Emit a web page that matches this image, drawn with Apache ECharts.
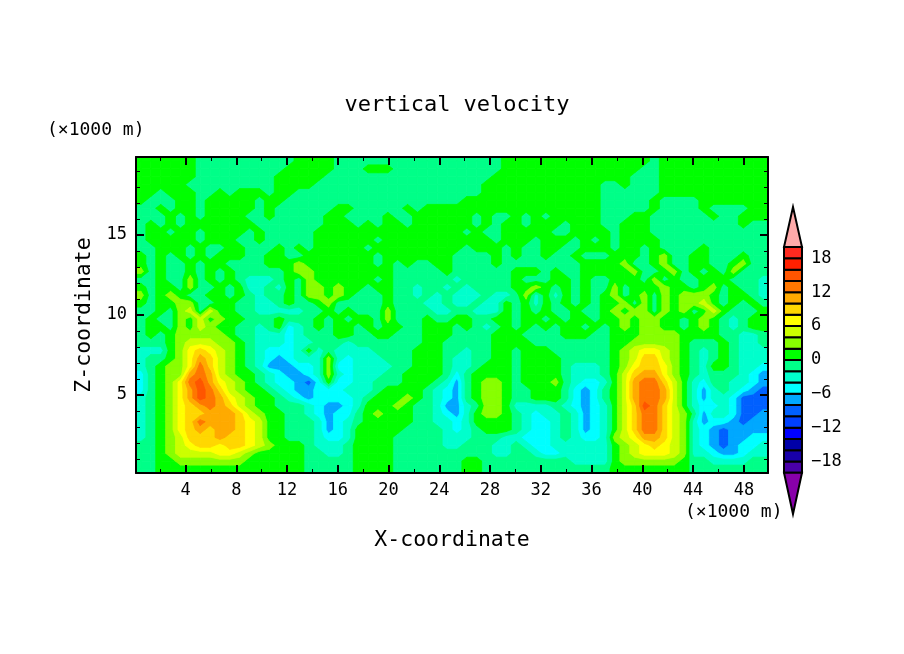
<!DOCTYPE html>
<html>
<head>
<meta charset="utf-8">
<title>vertical velocity</title>
<script src="https://cdn.jsdelivr.net/npm/echarts@6/dist/echarts.min.js"></script>
<style>
html, body { margin: 0; padding: 0; background: #fff; }
#chart { width: 904px; height: 654px; }
</style>
</head>
<body>
<div id="chart"></div>
<script>
// vertical velocity, band centre in m/s, top row first, 64 columns
var velocity = [
[1,1,1,1,1,1,-1,-1,-1,-1,-1,-1,-1,-1,-1,-1,1,1,1,1,-1,-1,-1,-1,-1,-1,-1,-1,-1,-1,-1,-1,-1,-1,-1,-1,-1,1,1,1,1,1,1,1,1,1,1,1,1,1,1,1,-1,1,1,1,1,1,1,1,1,1,1,1],
[1,1,1,1,1,1,-1,-1,-1,-1,-1,-1,-1,-1,-1,1,1,1,1,1,-1,-1,-1,1,1,1,-1,-1,-1,-1,-1,-1,-1,-1,-1,-1,-1,1,1,1,1,1,1,1,1,1,1,1,1,1,1,-1,-1,1,1,1,1,1,1,1,1,1,1,1],
[1,1,1,1,1,1,-1,-1,-1,-1,-1,-1,-1,-1,1,1,1,1,1,-1,-1,-1,-1,-1,-1,-1,-1,-1,-1,-1,-1,-1,-1,-1,-1,-1,1,1,1,1,1,1,1,1,1,1,1,1,1,1,-1,-1,-1,1,1,1,1,1,1,1,1,1,1,1],
[1,1,1,1,1,-1,-1,-1,-1,-1,-1,-1,-1,-1,1,1,1,1,-1,-1,-1,-1,-1,-1,-1,-1,-1,-1,-1,-1,-1,-1,-1,-1,-1,1,1,1,1,1,1,1,1,1,1,1,1,-1,-1,1,-1,-1,-1,1,1,1,1,1,1,1,1,1,1,1],
[1,1,-1,1,1,1,-1,-1,1,-1,1,1,1,-1,1,1,-1,-1,-1,-1,-1,-1,-1,-1,-1,-1,-1,-1,-1,-1,-1,-1,-1,-1,-1,1,1,1,1,1,1,1,1,1,1,1,1,-1,-1,-1,-1,-1,-1,1,1,1,1,1,1,1,1,1,1,1],
[1,-1,-1,-1,1,1,-1,1,1,1,1,1,-1,1,1,-1,-1,-1,-1,-1,-1,-1,-1,-1,-1,-1,-1,-1,-1,-1,-1,-1,-1,1,1,1,1,1,1,1,1,1,1,1,1,1,1,-1,-1,-1,-1,-1,1,-1,-1,-1,-1,1,1,1,1,1,1,1],
[-1,-1,1,-1,1,1,-1,1,1,1,1,1,-1,1,-1,-1,-1,-1,-1,-1,1,1,-1,-1,-1,-1,-1,1,-1,1,1,1,1,1,1,1,1,1,1,1,1,1,1,1,1,1,1,-1,-1,-1,-1,-1,1,-1,-1,-1,-1,1,-1,-1,-1,-1,1,1],
[-1,-1,-1,1,-1,1,-1,1,1,1,1,-1,-1,1,-1,-1,-1,-1,-1,1,1,-1,-1,-1,-1,1,-1,-1,1,1,1,1,1,1,-1,1,-1,-1,1,-1,1,-1,1,1,1,1,1,-1,-1,-1,1,1,-1,-1,-1,-1,-1,-1,1,-1,-1,1,1,1],
[-1,1,-1,1,-1,1,1,1,1,1,1,1,-1,-1,-1,-1,-1,-1,-1,1,1,1,-1,1,-1,1,1,-1,1,1,1,1,1,1,-1,1,-1,1,1,-1,1,1,1,-1,1,1,1,-1,-1,1,1,1,-1,-1,-1,-1,-1,-1,-1,-1,-1,1,-1,-1],
[-1,1,1,-1,1,1,-1,1,1,1,1,-1,1,-1,-1,-1,-1,-1,1,1,1,1,1,1,1,1,1,1,1,1,1,1,1,-1,1,-1,-1,1,1,1,1,1,-1,-1,1,1,1,1,-1,1,1,1,-1,-1,-1,-1,-1,-1,-1,-1,-1,-1,-1,-1],
[-1,1,1,1,1,1,-1,1,1,1,-1,-1,1,-1,-1,-1,-1,-1,1,1,1,1,1,1,-1,1,1,1,1,1,1,1,1,1,1,1,-1,1,1,1,-1,1,1,1,-1,1,-1,1,-1,1,1,1,1,-1,-1,-1,-1,-1,-1,-1,-1,-1,-1,-1],
[-1,-1,1,1,1,-1,1,-1,-1,1,1,-1,-1,-1,1,-1,1,-1,1,1,1,1,1,-1,1,1,1,1,1,1,1,1,1,-1,1,1,1,-1,1,-1,-1,1,1,-1,-1,1,1,1,-1,1,1,-1,1,-1,-1,-1,-1,1,-1,-1,-1,-1,-1,-1],
[1,-1,1,-1,1,-1,1,-1,1,1,1,-1,-1,1,1,-1,-1,1,1,1,1,1,1,1,-1,1,1,1,1,1,1,1,-1,-1,-1,-1,1,-1,1,-1,-1,1,-1,-1,1,-1,-1,-1,1,1,1,-1,1,3,-1,-1,1,1,-1,-1,-1,1,-1,-1],
[1,-1,1,-1,-1,1,-1,1,1,-1,-1,-1,-1,1,1,1,3,1,1,1,1,1,1,1,-1,1,-1,1,-1,-1,1,1,-1,-1,-1,-1,1,-1,-1,-1,-1,-1,-1,-1,-1,1,1,1,1,3,-1,-1,1,3,-1,-1,1,1,-1,-1,1,3,-1,-1],
[3,-1,1,-1,-1,1,-1,1,-1,1,-1,-1,-1,-1,-1,1,3,3,1,1,1,1,1,1,1,1,-1,-1,-1,-1,-1,1,-1,-1,-1,-1,-1,-1,1,1,1,-1,1,-1,-1,1,1,1,1,1,3,-1,-1,1,3,-1,1,-1,1,-1,3,-1,-1,-1],
[-1,-1,1,-1,-1,3,-1,1,-1,1,-1,-3,-3,-3,-1,1,-1,3,1,1,1,1,1,1,-1,1,-1,-1,-1,-1,-1,-1,-3,-1,-1,-1,-1,-1,1,-1,-1,-1,1,1,-1,1,-1,-1,1,1,1,-1,3,-1,1,-1,-1,1,1,1,-1,-1,-1,-3],
[1,-1,1,1,-1,3,-1,-1,1,-1,1,-3,-3,-1,-3,1,-1,3,3,1,3,1,1,-1,1,1,-1,-1,-3,-1,-1,-3,-1,-3,-1,-1,-1,-1,1,1,3,1,-1,1,-1,1,-1,-1,3,-1,1,1,1,3,1,1,-1,1,3,-1,1,-1,-1,-3],
[3,-1,1,3,1,-1,-1,1,1,-1,1,-1,-3,-1,-1,1,-1,3,3,1,3,1,-1,-1,-1,1,-1,-1,-3,-1,-3,-1,-3,-3,-3,-1,-3,-3,-1,3,-3,1,-3,1,-1,1,-1,1,3,-1,1,3,-1,3,1,3,3,3,1,-1,1,1,-1,-3],
[1,-1,1,1,3,3,-1,-1,1,1,-1,-1,-3,-3,-1,1,-1,-1,1,3,-1,-1,-1,-1,-1,1,-1,-1,-1,-3,-3,-1,-3,-3,-1,-3,-3,1,-1,1,-3,1,-1,1,-1,1,-1,1,1,3,-1,3,-1,3,1,3,3,5,1,-1,1,-1,1,-1],
[-1,-1,1,-1,3,5,-1,5,1,1,-1,-1,-3,-3,-3,-3,-3,-1,-1,1,-1,1,-1,-1,-1,3,-1,-1,-1,-1,-3,-3,-1,-1,-3,-3,-3,1,-1,1,-1,1,-1,-1,1,-1,-1,1,3,1,3,3,-1,3,1,3,-1,1,5,1,-1,-1,-1,1],
[-1,1,-1,-1,3,1,5,1,3,1,1,-1,-1,-1,1,-1,-1,-1,1,-1,1,-1,1,1,-1,3,-1,-1,-1,1,-1,-1,1,1,-1,-1,1,1,-1,1,1,-1,1,-1,1,1,-1,1,1,3,1,3,3,1,1,-1,1,3,1,-1,-3,-1,1,1],
[-1,1,1,-1,3,1,5,3,1,1,-1,-1,-3,-1,1,-5,-3,-1,1,-1,1,1,-1,1,-1,1,1,-1,-1,1,1,1,-1,1,-1,-3,-1,1,-1,1,-1,1,-1,1,1,-1,1,-1,1,3,1,3,3,1,1,-1,1,3,1,-1,-3,-1,1,1],
[-1,1,-1,1,3,3,3,3,3,1,-1,-1,-3,-3,-3,-5,-3,-1,-1,-1,1,1,-1,-1,1,1,-1,-1,-1,1,1,1,-1,-1,-1,-1,1,1,1,-1,-1,-1,-1,1,1,1,-1,-1,1,1,1,3,3,3,3,1,1,1,1,-1,-1,-3,-3,-1],
[-1,-1,-1,1,3,5,5,5,3,3,1,-1,-3,-3,-3,-5,-3,-3,-1,-1,-1,-3,-1,-1,-1,-1,-1,-1,-1,1,1,-1,-1,-1,-1,-1,1,1,1,1,-1,-1,-1,-1,-1,-1,-1,-1,1,1,3,3,3,3,3,1,-1,-1,-1,1,-1,-3,-3,-1],
[-3,-3,-3,1,3,7,9,7,5,3,1,-1,-3,-5,-5,-5,-3,1,-3,-1,-3,-3,-3,-3,-1,-1,-1,-1,1,1,1,-1,-1,-3,-1,-1,1,1,-1,1,1,1,-1,-1,-1,-1,-1,-1,1,3,5,7,7,5,3,1,-1,-3,-1,1,-1,-3,-3,-3],
[-3,-1,-1,1,3,7,11,9,5,3,1,-1,-3,-5,-7,-5,-3,-3,-3,3,-3,-5,-3,-3,-3,-1,-1,-1,1,1,1,-1,-3,-3,-1,-1,1,1,-1,1,1,1,1,-1,-1,-1,-1,-1,1,3,5,9,9,5,3,1,-1,-3,-1,1,-1,-3,-3,-3],
[-3,-1,1,3,3,7,13,9,5,3,1,-1,-3,-7,-7,-7,-5,-5,-3,3,-5,-5,-3,-3,-3,-3,-1,-1,1,1,1,-1,-3,-3,-1,1,1,1,-1,1,1,1,1,-1,-3,-3,-3,-1,1,3,7,9,9,7,3,1,-1,-3,1,1,-1,-3,-3,-5],
[-5,-1,1,3,3,11,13,11,5,3,1,1,-1,-3,-5,-7,-7,-5,-3,3,-3,-5,-3,-3,-3,-1,-1,1,1,1,1,-1,-5,-1,1,1,1,1,-1,1,1,1,1,-1,-3,-3,-3,-1,1,5,9,11,11,7,3,1,-1,-3,-1,-1,-1,-3,-5,-7],
[-5,-1,1,3,7,13,15,11,7,5,3,1,-1,-3,-5,-5,-7,-9,-5,1,-5,-5,-3,-3,-1,-1,-1,1,1,1,-1,-3,-7,-1,1,3,3,1,-1,1,1,1,3,-1,-3,-5,-5,-3,1,5,11,13,13,9,5,1,-3,-5,-1,-1,-3,-3,-5,-7],
[-5,-1,1,3,7,11,15,13,9,5,3,1,1,-1,-3,-5,-7,-7,-5,-5,-5,-3,-3,-3,-1,1,1,1,1,-1,-3,-5,-7,-1,1,3,3,1,-1,-1,1,1,1,-1,-5,-7,-5,-1,1,5,11,13,13,11,5,1,-3,-7,-3,-1,-3,-5,-7,-9],
[-3,-1,1,3,7,11,15,13,11,7,5,3,1,1,-1,-3,-5,-7,-5,-5,-5,-5,-3,-1,1,1,1,3,1,-1,-3,-5,-7,-1,1,3,3,1,-1,-1,1,1,1,-1,-5,-7,-5,-1,1,5,11,13,13,11,5,1,-3,-7,-3,-3,-5,-9,-9,-9],
[-3,-1,1,3,7,9,11,13,11,9,5,3,1,1,-1,-1,-1,-3,-5,-7,-7,-5,-3,1,1,1,3,1,-1,-1,-3,-7,-7,-3,-1,3,3,1,-3,-3,-3,-3,-1,-3,-5,-7,-5,-3,1,5,9,15,13,9,5,1,-3,-5,-5,-3,-5,-9,-9,-9],
[-3,-1,1,3,7,9,9,11,11,11,9,5,3,1,1,-1,-1,-3,-5,-7,-5,-5,-1,1,3,1,1,1,-1,-1,-3,-5,-7,-3,1,3,3,1,-1,-3,-5,-3,-3,-1,-3,-7,-5,-3,1,5,9,13,13,9,5,3,-1,-7,-3,-3,-5,-9,-9,-7],
[-3,-1,1,3,7,9,13,11,11,11,9,7,5,1,1,-1,-1,-1,-3,-7,-5,-3,-1,1,1,1,1,1,-1,-1,-3,-3,-5,-3,1,1,1,1,-1,-3,-5,-5,-3,-1,-3,-7,-5,-3,1,5,9,13,13,9,5,3,-3,-7,-5,-5,-7,-9,-7,-7],
[-3,-1,1,3,7,9,11,9,11,11,9,7,5,1,1,-1,-1,-1,-3,-7,-5,-3,1,1,1,1,1,-1,-1,-1,-1,-3,-5,-3,-1,1,1,1,-1,-3,-5,-5,-3,-1,-3,-7,-5,-3,1,5,9,13,13,9,5,3,-3,-5,-7,-9,-7,-7,-7,-7],
[-3,-1,1,3,5,9,9,9,11,9,9,7,5,1,1,-1,-1,-1,-3,-5,-5,-3,1,1,1,1,-1,-1,-1,-1,-1,-3,-3,-3,-1,-1,-1,-3,-3,-5,-5,-5,-3,-1,-3,-5,-5,-3,3,5,7,11,11,9,5,3,-3,-5,-7,-9,-7,-7,-5,-5],
[-1,-1,1,3,5,7,9,9,7,9,9,7,5,3,1,1,1,-1,-3,-3,-3,-1,1,1,1,1,-1,-1,-1,-1,-1,-3,-3,-1,-1,-1,-3,-3,-1,-3,-5,-5,-3,-3,-3,-3,-3,-3,1,3,5,7,9,7,5,3,-3,-5,-7,-9,-7,-5,-5,-3],
[-1,-1,1,3,5,5,5,5,7,7,5,3,1,1,1,1,1,-1,-1,-3,-3,-1,1,1,1,1,-1,-1,-1,-1,-1,-1,-1,-1,-1,-1,-3,-3,-1,-1,-3,-5,-5,-3,-3,-3,-3,-3,1,3,5,7,7,7,5,3,-3,-3,-5,-7,-7,-5,-3,-3],
[-1,-1,1,1,3,3,3,3,3,3,3,1,1,1,1,1,1,-1,-1,-1,-1,-1,1,1,1,1,-1,-1,-1,-1,-1,-1,-1,1,1,-1,-1,-1,-1,-1,-1,-1,-1,-1,-3,-3,-3,-3,1,3,3,3,3,3,3,1,-1,-1,-3,-3,-3,-3,-1,-1],
[-1,-1,1,1,1,1,1,1,1,1,1,1,1,1,1,1,1,-1,-1,-1,-1,-1,1,1,1,1,-1,-1,-1,-1,-1,-1,-1,1,1,-1,-1,-1,-1,-1,-1,-1,-1,-1,-1,-1,-1,-1,1,1,1,1,1,1,1,1,-1,-1,-1,-1,-1,-1,-1,-1]
];

// colour bar, one entry per box from the lowest band up
var levelLows = [-20,-18,-16,-14,-12,-10,-8,-6,-4,-2,0,2,4,6,8,10,12,14,16,18];
var levelColors = ['#4a00a8','#1800a8','#0000a8','#0000ff','#0040ff','#0060ff','#00a8ff','#00ffff','#00ffcc','#00ff88','#00ff00','#88ff00','#ccff00','#ffff00','#ffd700','#ffaa00','#ff7700','#ff5500','#ff2000','#ff2a20'];
var overColor = '#ffaaaa';
var underColor = '#8800aa';
var barLabels = [18,12,6,0,-6,-12,-18];

// axes
var xMajor = [4,8,12,16,20,24,28,32,36,40,44,48];
var xMinor = [2,6,10,14,18,22,26,30,34,38,42,46];
var zMajor = [5,10,15];
var zMinor = [1,2,3,4,6,7,8,9,11,12,13,14,16,17,18,19];

var FONT = '"DejaVu Sans Mono", monospace';
var X_MIN = 0.1, X_MAX = 49.9, Z_MIN = 0.125, Z_MAX = 19.875;

function tickAxis(min, max, position, values, len, width, showLabel, showLine) {
    return {
        type: 'value', gridIndex: 0, position: position, min: min, max: max, z: 5,
        splitLine: { show: false },
        axisLine: { show: showLine, onZero: false, lineStyle: { color: '#000', width: 2 } },
        axisTick: { show: true, inside: true, customValues: values, length: len, lineStyle: { color: '#000', width: width } },
        axisLabel: {
            show: showLabel, customValues: values, color: '#000',
            fontFamily: FONT, fontSize: 17, margin: 9
        }
    };
}

var nRows = velocity.length, nCols = velocity[0].length;

// cell centres, the outer ring of quads runs out to the frame
function xOf(c) {
    if (c < 0) return X_MIN;
    if (c >= nCols) return X_MAX;
    return X_MIN + (c + 0.5) * (X_MAX - X_MIN) / nCols;
}
function zOf(r) {
    if (r < 0) return Z_MAX;
    if (r >= nRows) return Z_MIN;
    return Z_MAX - (r + 0.5) * (Z_MAX - Z_MIN) / nRows;
}
function valueAt(r, c) {
    return velocity[Math.min(nRows - 1, Math.max(0, r))][Math.min(nCols - 1, Math.max(0, c))];
}

// one item per quad and per band, lowest band first so that higher bands paint over
var bandItems = [];
levelLows.forEach(function (low, band) {
    for (var r = -1; r < nRows; r++) {
        for (var c = -1; c < nCols; c++) {
            var v = [valueAt(r, c), valueAt(r, c + 1), valueAt(r + 1, c + 1), valueAt(r + 1, c)];
            var hi = Math.max.apply(null, v), lo = Math.min.apply(null, v);
            if (hi >= low && lo < low + 2) {
                bandItems.push([xOf(c), zOf(r), xOf(c + 1), zOf(r + 1), v[0], v[1], v[2], v[3], band]);
            }
        }
    }
});

function renderBand(params, api) {
    var x0 = api.value(0), z0 = api.value(1), x1 = api.value(2), z1 = api.value(3);
    var band = api.value(8);
    var low = levelLows[band];
    var corners = [[x0, z0, api.value(4)], [x1, z0, api.value(5)], [x1, z1, api.value(6)], [x0, z1, api.value(7)]];
    var pts = [];
    corners.forEach(function (p, i) {
        var q = corners[(i + 1) % 4];
        if (p[2] >= low) pts.push(api.coord([p[0], p[1]]));
        if ((p[2] >= low) !== (q[2] >= low)) {
            var t = (low - p[2]) / (q[2] - p[2]);
            pts.push(api.coord([p[0] + t * (q[0] - p[0]), p[1] + t * (q[1] - p[1])]));
        }
    });
    if (pts.length < 3) return null;
    var color = levelColors[band];
    return { type: 'polygon', shape: { points: pts }, style: { fill: color, stroke: color, lineWidth: 0.8 } };
}

var xBottom = tickAxis(X_MIN, X_MAX, 'bottom', xMajor, 8, 2, true, true);
xBottom.name = 'X-coordinate';
xBottom.nameLocation = 'center';
xBottom.nameGap = 56;
xBottom.nameTextStyle = { fontFamily: FONT, fontSize: 21.5, color: '#000' };

var zLeft = tickAxis(Z_MIN, Z_MAX, 'left', zMajor, 8, 2, true, true);
zLeft.name = 'Z-coordinate';
zLeft.nameLocation = 'center';
zLeft.nameGap = 41;
zLeft.nameTextStyle = { fontFamily: FONT, fontSize: 21.5, color: '#000' };

var option = {
    animation: false,
    backgroundColor: '#fff',
    title: {
        text: 'vertical velocity', left: 452, top: 89, textAlign: 'center',
        textStyle: { fontFamily: FONT, fontSize: 22, fontWeight: 'normal', color: '#000' }
    },
    graphic: [
        { type: 'text', left: 47, top: 121, style: { text: '(×1000 m)', font: '18px ' + FONT, fill: '#000' } },
        { type: 'text', left: 685, top: 503, style: { text: '(×1000 m)', font: '18px ' + FONT, fill: '#000' } }
    ],
    grid: [
        { left: 136, top: 157, width: 632, height: 316 },
        { left: 784, top: 207, width: 18, height: 307 }
    ],
    xAxis: [
        xBottom,
        tickAxis(X_MIN, X_MAX, 'bottom', xMinor, 4, 1, false, false),
        tickAxis(X_MIN, X_MAX, 'top', xMajor, 8, 2, false, true),
        tickAxis(X_MIN, X_MAX, 'top', xMinor, 4, 1, false, false),
        { type: 'value', gridIndex: 1, min: 0, max: 1, show: false }
    ],
    yAxis: [
        zLeft,
        tickAxis(Z_MIN, Z_MAX, 'left', zMinor, 4, 1, false, false),
        tickAxis(Z_MIN, Z_MAX, 'right', zMajor, 8, 2, false, true),
        tickAxis(Z_MIN, Z_MAX, 'right', zMinor, 4, 1, false, false),
        {
            type: 'value', gridIndex: 1, position: 'right', min: -27.3, max: 27.1,
            splitLine: { show: false }, axisLine: { show: false }, axisTick: { show: false },
            axisLabel: {
                customValues: barLabels, color: '#000', fontFamily: FONT, fontSize: 17, margin: 9,
                formatter: function (v) { return String(v).replace('-', '\u2212'); }
            }
        }
    ],
    series: [
        {
            type: 'custom', name: 'w', xAxisIndex: 0, yAxisIndex: 0, progressive: 0, silent: true,
            data: bandItems, encode: { x: [0, 2], y: [1, 3] }, renderItem: renderBand
        },
        {
            type: 'custom', xAxisIndex: 4, yAxisIndex: 4, clip: false, z: 6, silent: true,
            data: levelLows.map(function (low) { return [low, low + 2]; })
                .concat([[20, 27.1], [-20, -27.3]]),
            encode: { y: [0, 1] },
            renderItem: function (params, api) {
                var a = api.value(0), b = api.value(1);
                var fill = levelColors.concat([overColor, underColor])[params.dataIndex];
                var style = { fill: fill, stroke: '#000', lineWidth: 2 };
                var pts;
                if (params.dataIndex >= levelLows.length) {
                    pts = [api.coord([0, a]), api.coord([1, a]), api.coord([0.5, b])];
                } else {
                    pts = [api.coord([0, a]), api.coord([1, a]), api.coord([1, b]), api.coord([0, b])];
                }
                return { type: 'polygon', shape: { points: pts }, style: style };
            }
        }
    ]
};

var chart = echarts.init(document.getElementById('chart'));
chart.setOption(option);
</script>
</body>
</html>
